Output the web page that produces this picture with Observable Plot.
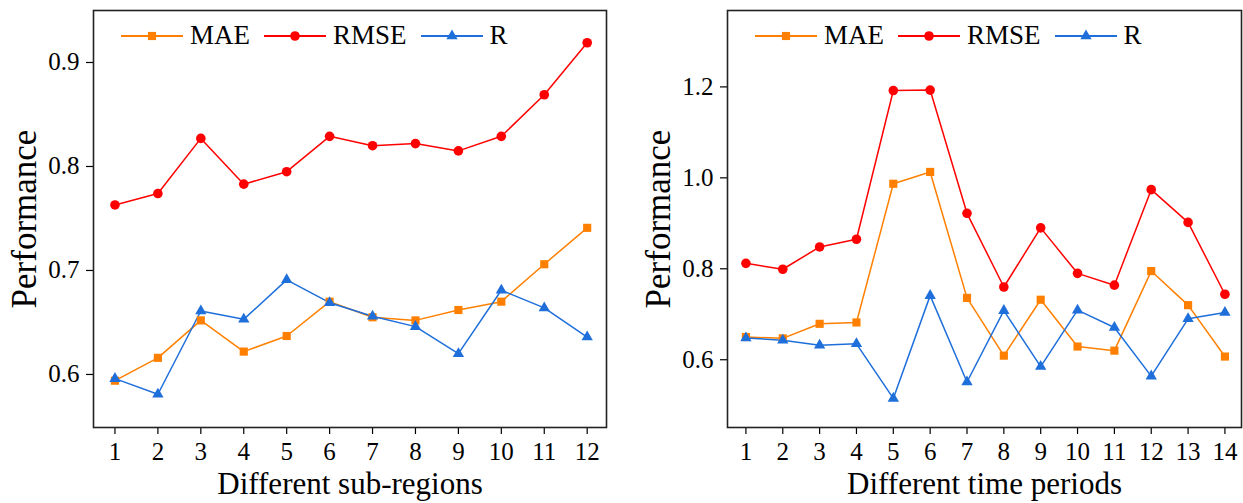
<!DOCTYPE html>
<html>
<head>
<meta charset="utf-8">
<script src="https://cdn.jsdelivr.net/npm/d3@7"></script>
<script src="https://cdn.jsdelivr.net/npm/@observablehq/plot@0.6"></script>
<style>
  html, body { margin: 0; padding: 0; background: #fff; }
  #wrap { position: relative; width: 1243px; height: 503px; overflow: hidden; font-family: "Liberation Serif", "Times New Roman", serif; }
  #wrap svg, #wrap svg text { font-family: "Liberation Serif", "Times New Roman", serif !important; }
  .panel { position: absolute; top: 0; }
  .legend { position: absolute; display: flex; align-items: center; font-size: 27px; line-height: 27px; color: #000; white-space: nowrap; }
  .legend .item { display: flex; align-items: center; margin-right: 14px; }
  .legend svg { margin-right: 7px; display: block; }
</style>
</head>
<body>
<div id="wrap"></div>
<script>
// ---- Data ----
const seriesNames = ["MAE", "RMSE", "R"];
const seriesColors = ["#ff8000", "#ff0000", "#1f6fdb"];
const seriesSymbols = ["square", "circle", "triangle"];
const seriesRadius = [4.6, 4.8, 4.2];

const regions = [1, 2, 3, 4, 5, 6, 7, 8, 9, 10, 11, 12];
const maeRegion  = [0.594, 0.616, 0.652, 0.622, 0.637, 0.670, 0.655, 0.652, 0.662, 0.670, 0.706, 0.741];
const rmseRegion = [0.763, 0.774, 0.827, 0.783, 0.795, 0.829, 0.820, 0.822, 0.815, 0.829, 0.869, 0.919];
const rRegion    = [0.596, 0.581, 0.661, 0.653, 0.691, 0.669, 0.656, 0.646, 0.620, 0.681, 0.664, 0.636];
const regionYTicks = [0.6, 0.7, 0.8, 0.9];

const periods = [1, 2, 3, 4, 5, 6, 7, 8, 9, 10, 11, 12, 13, 14];
const maePeriod  = [0.650, 0.647, 0.679, 0.682, 0.987, 1.013, 0.736, 0.609, 0.732, 0.629, 0.620, 0.795, 0.720, 0.607];
const rmsePeriod = [0.812, 0.799, 0.848, 0.865, 1.192, 1.193, 0.922, 0.760, 0.890, 0.790, 0.764, 0.974, 0.902, 0.744];
const rPeriod    = [0.648, 0.643, 0.632, 0.635, 0.515, 0.741, 0.551, 0.708, 0.585, 0.709, 0.671, 0.564, 0.690, 0.704];
const periodYTicks = [0.6, 0.8, 1.0, 1.2];

const SERIF = "'Liberation Serif', 'Times New Roman', serif";

function toRows(xs, lists) {
  const rows = [];
  lists.forEach((vals, si) => {
    xs.forEach((x, i) => rows.push({x, y: vals[i], series: seriesNames[si]}));
  });
  return rows;
}

function makePanel({xs, lists, yDomain, yTicks, xLabel, left, width, marginLeft, marginRight, legendLeft}) {
  const rows = toRows(xs, lists);
  const marks = [];
  seriesNames.forEach((name, si) => {
    const d = rows.filter(r => r.series === name);
    marks.push(Plot.line(d, {x: "x", y: "y", stroke: seriesColors[si], strokeWidth: 1.5}));
  });
  seriesNames.forEach((name, si) => {
    const d = rows.filter(r => r.series === name);
    marks.push(Plot.dot(d, {x: "x", y: "y", symbol: () => seriesSymbols[si], fill: seriesColors[si], stroke: "none", r: seriesRadius[si]}));
  });
  const chart = Plot.plot({
    width, height: 503,
    marginLeft, marginRight, marginTop: 10, marginBottom: 76,
    style: {fontFamily: SERIF, background: "#fff", color: "#000"},
    symbol: {type: "identity"},
    x: {domain: [0.5, xs.length + 0.45]},
    y: {domain: yDomain},
    marks: [
      Plot.axisX({ticks: xs, tickFormat: d => String(d), tickSize: 7, tickPadding: 8, fontSize: 25, fontFamily: SERIF,
        label: null, strokeWidth: 1.2}),
      Plot.axisX({ticks: [], label: xLabel, labelAnchor: "center", labelArrow: "none", labelOffset: 66, fontSize: 31, fontFamily: SERIF}),
      Plot.axisY({ticks: yTicks, tickFormat: d3.format(".1f"), tickSize: 7, tickPadding: 7, fontSize: 25, fontFamily: SERIF,
        label: null, strokeWidth: 1.2}),
      Plot.axisY({ticks: [], label: "Performance", labelAnchor: "center", labelArrow: "none", labelOffset: 82, fontSize: 35, fontFamily: SERIF}),
      ...marks,
      Plot.frame({stroke: "#222", strokeWidth: 1.6})
    ]
  });
  // enforce tick label typography
  chart.querySelectorAll('g[aria-label="x-axis tick label"], g[aria-label="y-axis tick label"]').forEach(g => {
    g.setAttribute("font-size", 25);
    g.setAttribute("font-family", SERIF);
    g.style.fontSize = "25px";
    g.querySelectorAll("text").forEach(t => { t.style.fontSize = "25px"; t.style.fontFamily = SERIF; });
  });

  const div = document.createElement("div");
  div.className = "panel";
  div.style.left = left + "px";
  div.appendChild(chart);
  document.getElementById("wrap").appendChild(div);

  // legend
  const leg = document.createElement("div");
  leg.className = "legend";
  leg.style.left = legendLeft + "px";
  leg.style.top = "22px";
  seriesNames.forEach((name, si) => {
    const item = document.createElement("div");
    item.className = "item";
    const svg = d3.create("svg").attr("width", 62).attr("height", 20);
    svg.append("line").attr("x1", 0).attr("x2", 62).attr("y1", 10).attr("y2", 10)
      .attr("stroke", seriesColors[si]).attr("stroke-width", 1.8);
    const sym = {square: d3.symbolSquare, circle: d3.symbolCircle, triangle: d3.symbolTriangle}[seriesSymbols[si]];
    svg.append("path").attr("transform", "translate(31,10)")
      .attr("d", d3.symbol(sym, Math.PI * seriesRadius[si] * seriesRadius[si])())
      .attr("fill", seriesColors[si]);
    item.appendChild(svg.node());
    const span = document.createElement("span");
    span.textContent = name;
    item.appendChild(span);
    leg.appendChild(item);
  });
  document.getElementById("wrap").appendChild(leg);
}

makePanel({xs: regions, lists: [maeRegion, rmseRegion, rRegion], yDomain: [0.549, 0.95], yTicks: regionYTicks,
  xLabel: "Different sub-regions", left: 0, width: 620, marginLeft: 93, marginRight: 14, legendLeft: 121});
makePanel({xs: periods, lists: [maePeriod, rmsePeriod, rPeriod], yDomain: [0.451, 1.368], yTicks: periodYTicks,
  xLabel: "Different time periods", left: 620, width: 623, marginLeft: 107, marginRight: 2, legendLeft: 755});
</script>
</body>
</html>
